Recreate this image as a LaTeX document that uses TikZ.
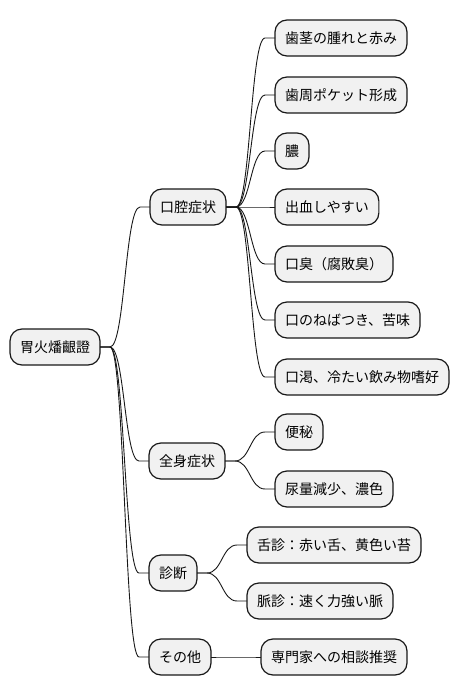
\documentclass[tikz,border=0pt]{standalone}
\usepackage{fontspec}
\newfontfamily\jp{Noto Sans CJK JP}
\usetikzlibrary{calc}
\definecolor{boxfill}{HTML}{F1F1F1}
\definecolor{boxline}{HTML}{181818}
\tikzset{
  mmbox/.style={draw=boxline, fill=boxfill, line width=1.2pt, rounded corners=12pt,
    inner xsep=10pt, inner ysep=0pt, minimum height=36pt, outer sep=0pt,
    anchor=west, font=\jp\fontsize{14pt}{16pt}\selectfont, text=black},
  mmline/.style={draw=boxline, line width=0.9pt}
}
\newcommand{\mmlink}[2]{%
  \draw[mmline] let \p1=($(#1.east)+(10pt,0)$), \p2=($(#2.west)+(-10pt,0)$) in
    (#1.east) -- (\p1) .. controls ({(\x1+\x2)/2},\y1) and ({(\x1+\x2)/2},\y2) .. (\p2) -- (#2.west);}
\begin{document}
\begin{tikzpicture}[x=1pt,y=-1pt]
\useasboundingbox (0,0) rectangle (460,696);
\node[mmbox] (root) at (10,347) {胃火燔齦證};
\node[mmbox] (oral) at (150,207) {口腔症状};
\node[mmbox] (o1) at (275,38) {歯茎の腫れと赤み};
\node[mmbox] (o2) at (275,95) {歯周ポケット形成};
\node[mmbox] (o3) at (275,151) {膿};
\node[mmbox] (o4) at (275,207) {出血しやすい};
\node[mmbox] (o5) at (275,264) {口臭（腐敗臭）};
\node[mmbox] (o6) at (275,320) {口のねばつき、苦味};
\node[mmbox] (o7) at (275,377) {口渇、冷たい飲み物嗜好};
\node[mmbox] (body) at (149,461) {全身症状};
\node[mmbox] (b1) at (275,432) {便秘};
\node[mmbox] (b2) at (275,489) {尿量減少、濃色};
\node[mmbox] (diag) at (149,573) {診断};
\node[mmbox] (d1) at (247,545) {舌診：赤い舌、黄色い苔};
\node[mmbox] (d2) at (247,601) {脈診：速く力強い脈};
\node[mmbox] (other) at (149,657) {その他};
\node[mmbox] (t1) at (261,657) {専門家への相談推奨};
\mmlink{root}{oral}
\mmlink{root}{body}
\mmlink{root}{diag}
\mmlink{root}{other}
\mmlink{oral}{o1}
\mmlink{oral}{o2}
\mmlink{oral}{o3}
\mmlink{oral}{o4}
\mmlink{oral}{o5}
\mmlink{oral}{o6}
\mmlink{oral}{o7}
\mmlink{body}{b1}
\mmlink{body}{b2}
\mmlink{diag}{d1}
\mmlink{diag}{d2}
\mmlink{other}{t1}
\end{tikzpicture}
\end{document}
